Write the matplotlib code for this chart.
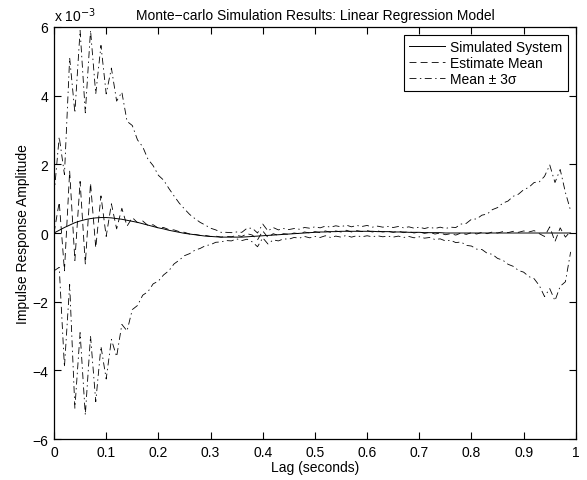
# -*- coding=utf-8 -*-
"""
Monte-carlo impulse response plot (MATLAB look)
"""
import numpy as np
import matplotlib
matplotlib.use('Agg')
import matplotlib.pyplot as plt

plt.rcParams['font.family'] = ['Liberation Sans', 'DejaVu Sans']
plt.rcParams['lines.scale_dashes'] = False

# lag in seconds, 0.01 s sampling
lag = np.round(np.arange(100) * 0.01, 2)

# values below are in units of 1e-3
sim = [0.00, 0.08, 0.16, 0.23, 0.30, 0.35, 0.39, 0.42, 0.44, 0.45,
       0.45, 0.44, 0.42, 0.40, 0.37, 0.34, 0.31, 0.27, 0.23, 0.19,
       0.15, 0.12, 0.08, 0.05, 0.02, -0.01, -0.03, -0.05, -0.07, -0.09,
       -0.10, -0.11, -0.12, -0.12, -0.12, -0.12, -0.12, -0.11, -0.10, -0.09,
       -0.08, -0.07, -0.06, -0.05, -0.04, -0.03, -0.02, -0.01, 0.00, 0.01,
       0.02, 0.03, 0.03, 0.04, 0.04, 0.05, 0.05, 0.05, 0.05, 0.05,
       0.05, 0.05, 0.04, 0.04, 0.04, 0.03, 0.03, 0.03, 0.02, 0.02,
       0.02, 0.01, 0.01, 0.01, 0.01, 0.00, 0.00, 0.00, 0.00, 0.00,
       0.00, 0.00, 0.00, 0.00, 0.00, 0.00, 0.00, 0.00, 0.00, 0.00,
       0.00, 0.00, 0.00, 0.00, 0.00, 0.00, 0.00, 0.00, 0.00, 0.00]

est_mean = [0.00, 0.90, -1.10, 1.80, -0.80, 1.50, -0.90, 1.45, -0.43, 1.08,
            -0.10, 0.85, 0.12, 0.72, 0.20, 0.45, 0.30, 0.35, 0.22, 0.24,
            0.14, 0.16, 0.10, 0.09, 0.04, 0.02, -0.03, -0.04, -0.07, -0.07,
            -0.10, -0.09, -0.12, -0.10, -0.11, -0.07, -0.10, -0.02, -0.06, -0.20,
            0.06, -0.13, -0.02, -0.07, -0.02, -0.04, 0.00, -0.02, 0.03, 0.00,
            0.04, 0.01, 0.06, 0.02, 0.06, 0.03, 0.08, 0.03, 0.07, 0.04,
            0.07, 0.03, 0.06, 0.03, 0.05, 0.02, 0.05, 0.01, 0.04, 0.00,
            0.03, -0.01, 0.02, -0.03, 0.00, -0.05, -0.02, -0.06, 0.00, -0.04,
            0.01, -0.03, 0.02, -0.02, 0.03, 0.00, 0.04, 0.01, 0.05, 0.02,
            0.06, 0.03, 0.07, -0.02, -0.10, 0.18, -0.25, 0.15, -0.12, 0.05]

# 3 sigma half-width of the band
band3 = [1.10, 1.90, 2.80, 3.30, 4.30, 4.40, 4.40, 4.45, 4.48, 4.38,
         4.15, 3.95, 3.72, 3.38, 3.05, 2.68, 2.41, 2.16, 1.93, 1.72,
         1.54, 1.38, 1.20, 0.99, 0.83, 0.68, 0.57, 0.46, 0.38, 0.30,
         0.24, 0.18, 0.14, 0.12, 0.12, 0.10, 0.12, 0.16, 0.20, 0.20,
         0.20, 0.19, 0.18, 0.16, 0.15, 0.14, 0.13, 0.13, 0.13, 0.14,
         0.14, 0.14, 0.14, 0.15, 0.15, 0.15, 0.15, 0.15, 0.15, 0.15,
         0.15, 0.14, 0.14, 0.14, 0.14, 0.14, 0.14, 0.14, 0.14, 0.14,
         0.14, 0.14, 0.15, 0.16, 0.17, 0.18, 0.19, 0.22, 0.26, 0.32,
         0.39, 0.44, 0.50, 0.57, 0.65, 0.74, 0.83, 0.92, 1.02, 1.11,
         1.20, 1.30, 1.40, 1.51, 1.75, 1.80, 1.72, 1.70, 1.30, 0.60]

mean_arr = np.array(est_mean)
upper = mean_arr + np.array(band3)
lower = mean_arr - np.array(band3)

fig = plt.figure(figsize=(5.87, 4.81), dpi=100)
ax = fig.add_axes([0.092, 0.085, 0.889, 0.857])

dashdot = (0, (5, 2.5, 1, 2.5))
ax.plot(lag, sim, color='black', lw=0.7, label='Simulated System')
ax.plot(lag, est_mean, color='black', lw=0.6, linestyle=(0, (5, 3)), label='Estimate Mean')
ax.plot(lag, upper, color='black', lw=0.6, linestyle=dashdot, label='Mean ± 3σ')
ax.plot(lag, lower, color='black', lw=0.6, linestyle=dashdot)

ax.set_xlim(0, 1)
ax.set_ylim(-6, 6)
ax.set_xticks(np.arange(0, 1.01, 0.1))
ax.set_xticklabels(['0', '0.1', '0.2', '0.3', '0.4', '0.5', '0.6', '0.7', '0.8', '0.9', '1'])
ax.set_yticks([-6, -4, -2, 0, 2, 4, 6])
ax.tick_params(direction='in', top=True, right=True, length=5, width=0.8, labelsize=10, pad=4)
for s in ax.spines.values():
    s.set_linewidth(0.9)

ax.text(0.0, 1.008, 'x 10$^{-3}$', transform=ax.transAxes, fontsize=10, ha='left', va='bottom')
ax.set_title('Monte\u2212carlo Simulation Results: Linear Regression Model', fontsize=10, pad=6)
ax.set_xlabel('Lag (seconds)', fontsize=10, labelpad=1)
ax.set_ylabel('Impulse Response Amplitude', fontsize=10, labelpad=2)

leg = ax.legend(loc='upper right', fontsize=10, frameon=True, fancybox=False,
                edgecolor='black', framealpha=1, borderaxespad=0.6, handlelength=2.6,
                handletextpad=0.4, labelspacing=0.15, borderpad=0.35)
leg.get_frame().set_linewidth(0.8)

fig.savefig('out.png', dpi=100)
